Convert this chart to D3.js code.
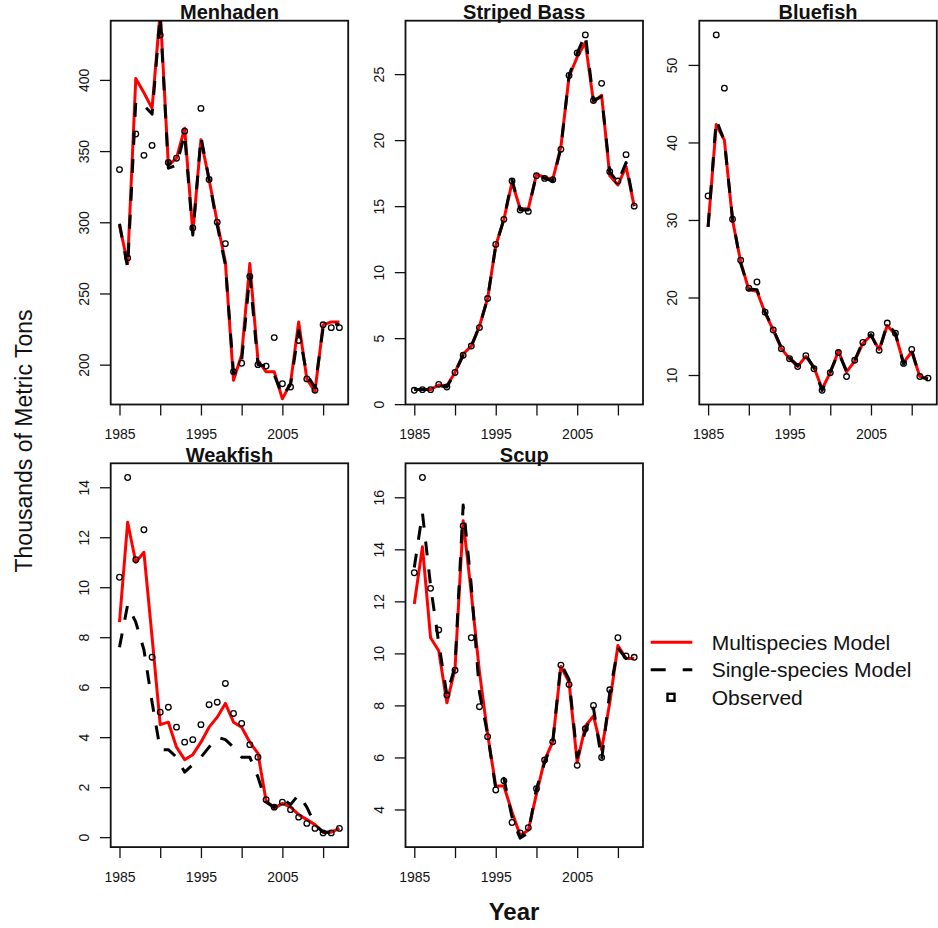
<!DOCTYPE html>
<html><head><meta charset="utf-8">
<script src="https://cdn.jsdelivr.net/npm/d3@7/dist/d3.min.js"></script>
<style>
html,body{margin:0;padding:0;background:#fff;}
svg text{font-family:"Liberation Sans",Arial,Helvetica,sans-serif;fill:#111;}
</style></head><body>
<svg id="chart" width="938" height="928"></svg>
<script>
// ---------------- data ----------------
const years = [1985,1986,1987,1988,1989,1990,1991,1992,1993,1994,1995,1996,1997,1998,1999,2000,2001,2002,2003,2004,2005,2006,2007,2008,2009,2010,2011,2012];
const xTicks = [1985,1990,1995,2000,2005,2010];
const xTickLabels = ["1985","","1995","","2005",""];

const menhadenMulti  = [298,271,401,391,380,448,340,345,366,293,358,330,300,272,189,207,271,203,195,195,176,187,230,190,181,228,230,230];
const menhadenSingle = [299,268,385,382,376,445,338,340,362,291,360,330,298,270,194,203,263,200,199,193,178,186,224,193,184,226,229,228];
const menhadenObs    = [337,275,362,347,354,431.6,342,345,364,296,380,330,300,285,195,201,262,200,199,219,186.6,184.3,217,190,182,228,226,226];
const menhadenTicks  = [200,250,300,350,400];

const bassMulti  = [1.1,1.1,1.1,1.45,1.4,2.4,3.8,4.4,5.9,8.0,12.0,14.0,16.8,14.8,14.8,17.4,17.2,17.0,19.5,24.8,26.3,27.4,22.9,23.4,17.3,16.6,18.0,15.0];
const bassSingle = [1.1,1.1,1.1,1.4,1.3,2.4,3.7,4.4,5.9,8.0,12.0,14.0,17.0,14.7,14.7,17.4,17.1,16.9,19.4,24.9,26.6,28.0,23.0,23.3,17.6,16.8,18.3,15.0];
const bassObs    = [1.05,1.1,1.1,1.5,1.3,2.4,3.7,4.4,5.8,8.0,12.1,14.0,16.9,14.7,14.6,17.3,17.1,17.0,19.3,24.9,26.6,27.97,23.0,24.3,17.6,16.9,18.9,15.0];
const bassTicks  = [0,5,10,15,20,25];

const blueMulti  = [29.1,42.3,40.3,30.0,24.6,21.0,20.8,18.0,15.8,13.4,12.1,11.1,12.4,11.0,8.2,10.3,13.1,10.4,11.8,14.1,15.1,13.3,16.4,15.2,11.6,13.0,9.8,9.6];
const blueSingle = [29.1,42.9,40.2,30.2,24.4,21.1,21.0,18.1,15.9,13.5,12.2,11.2,12.6,10.9,8.0,10.4,12.9,10.5,11.9,14.3,15.2,13.1,16.6,15.4,11.4,13.2,9.7,9.5];
const blueObs    = [33.1,53.87,47.0,30.1,24.8,21.2,22.0,18.1,15.8,13.4,12.1,11.1,12.5,10.8,8.03,10.3,12.9,9.8,11.9,14.2,15.2,13.2,16.7,15.4,11.5,13.3,9.8,9.6];
const blueTicks  = [10,20,30,40,50];

const weakMulti  = [8.6,12.6,11.0,11.4,8.0,4.5,4.6,3.6,3.1,3.3,3.8,4.4,4.8,5.35,4.6,4.4,3.8,3.35,1.45,1.15,1.35,1.2,0.9,0.7,0.5,0.2,0.2,0.35];
const weakSingle = [7.6,9.3,8.6,7.5,5.4,3.5,3.5,3.2,2.6,2.9,3.2,3.6,4.0,3.9,3.6,3.2,3.2,2.4,1.4,1.2,1.55,1.3,1.7,1.2,0.5,0.2,0.2,0.3];
const weakObs    = [10.4,14.39,11.1,12.3,7.2,5.0,5.2,4.4,3.8,3.9,4.5,5.3,5.4,6.15,4.95,4.55,3.7,3.2,1.5,1.2,1.4,1.1,0.8,0.55,0.35,0.17,0.17,0.35];
const weakTicks  = [0,2,4,6,8,10,12,14];

const scupMulti  = [11.9,14.1,10.6,10.1,8.1,9.4,15.1,12.3,9.3,6.9,4.9,4.9,3.9,3.0,3.2,4.6,5.9,6.6,9.5,8.9,5.8,7.2,7.6,6.3,8.1,10.3,9.8,9.8];
const scupSingle = [13.3,15.4,12.6,10.4,8.4,9.5,15.7,12.6,8.5,6.9,4.8,5.2,3.7,2.9,3.1,4.8,5.8,6.6,9.6,9.0,6.0,7.0,7.9,5.9,8.5,10.2,9.8,9.8];
const scupObs    = [13.1,16.76,12.5,10.9,8.4,9.35,14.9,10.6,7.95,6.8,4.75,5.1,3.5,3.1,3.3,4.8,5.9,6.6,9.55,8.8,5.7,7.1,8.0,6.0,8.6,10.6,9.9,9.85];
const scupTicks  = [4,6,8,10,12,14,16];

const legendLabels = ["Multispecies Model","Single-species Model","Observed"];

// ---------------- layout ----------------
const svg = d3.select("#chart");
const PW = 237.5, PH = 383.8;
const panels = [
  {title:"Menhaden",     multi:menhadenMulti, single:menhadenSingle, obs:menhadenObs, ticks:menhadenTicks, left:110.7, top:20.7},
  {title:"Striped Bass", multi:bassMulti,     single:bassSingle,     obs:bassObs,     ticks:bassTicks,     left:405.5, top:20.7},
  {title:"Bluefish",     multi:blueMulti,     single:blueSingle,     obs:blueObs,     ticks:blueTicks,     left:699.3, top:20.7},
  {title:"Weakfish",     multi:weakMulti,     single:weakSingle,     obs:weakObs,     ticks:weakTicks,     left:110.7, top:463.3},
  {title:"Scup",         multi:scupMulti,     single:scupSingle,     obs:scupObs,     ticks:scupTicks,     left:405.5, top:463.3}
];

function pad4(ext){ const r = ext[1]-ext[0]; return [ext[0]-0.04*r, ext[1]+0.04*r]; }

panels.forEach((p,i)=>{
  const g = svg.append("g").attr("transform",`translate(${p.left},${p.top})`);
  const x = d3.scaleLinear().domain(pad4(d3.extent(years))).range([0,PW]);
  const y = d3.scaleLinear().domain(pad4(d3.extent(p.obs))).range([PH,0]);

  const cid = "clip"+i;
  g.append("clipPath").attr("id",cid).append("rect").attr("width",PW).attr("height",PH);
  const plot = g.append("g").attr("clip-path",`url(#${cid})`);

  const line = d3.line().x((d,j)=>x(years[j])).y(d=>y(d));
  plot.append("path").datum(p.multi).attr("d",line)
    .attr("fill","none").attr("stroke","#ff0000").attr("stroke-width",3).attr("stroke-linejoin","round");
  plot.append("path").datum(p.single).attr("d",line)
    .attr("fill","none").attr("stroke","#000").attr("stroke-width",3).attr("stroke-dasharray","14,14").attr("stroke-linejoin","round");
  plot.selectAll("circle.obs").data(p.obs).enter().append("circle")
    .attr("cx",(d,j)=>x(years[j])).attr("cy",d=>y(d)).attr("r",2.8)
    .attr("fill","none").attr("stroke","#000").attr("stroke-width",1.3);

  // box
  g.append("rect").attr("width",PW).attr("height",PH).attr("fill","none").attr("stroke","#111").attr("stroke-width",1.8);

  // x axis
  const xa = g.append("g").attr("transform",`translate(0,${PH})`)
    .call(d3.axisBottom(x).tickValues(xTicks).tickSize(11).tickPadding(14).tickFormat((d,k)=>xTickLabels[k]));
  xa.select(".domain").remove();
  xa.selectAll("line").attr("stroke","#111").attr("stroke-width",1.3);
  xa.selectAll("text").attr("font-size",14).attr("fill","#111").attr("font-family",null);

  // y axis
  const ya = g.append("g")
    .call(d3.axisLeft(y).tickValues(p.ticks).tickSize(10.7).tickFormat(d3.format("d")));
  ya.select(".domain").remove();
  ya.selectAll("line").attr("stroke","#111").attr("stroke-width",1.3);
  ya.selectAll("text").attr("font-size",14).attr("fill","#111").attr("font-family",null)
    .attr("x",null).attr("dy",null)
    .attr("text-anchor","middle")
    .attr("transform","translate(-22,0) rotate(-90)");

  g.append("text").attr("x",PW/2).attr("y",-1.5).attr("text-anchor","middle")
    .attr("font-size",20).attr("font-weight","bold").text(p.title);
});

// axis titles
svg.append("text").attr("transform","translate(32,441) rotate(-90)").attr("text-anchor","middle")
  .attr("font-size",23).text("Thousands of Metric Tons");
svg.append("text").attr("x",514).attr("y",920).attr("text-anchor","middle")
  .attr("font-size",24).attr("font-weight","bold").text("Year");

// legend
const lg = svg.append("g").attr("transform","translate(650.7,642.3)");
const rowH = 27.5;
lg.append("line").attr("x1",0).attr("x2",41.6).attr("y1",0).attr("y2",0).attr("stroke","#ff0000").attr("stroke-width",3);
lg.append("line").attr("x1",0).attr("x2",41.6).attr("y1",rowH).attr("y2",rowH).attr("stroke","#000").attr("stroke-width",3).attr("stroke-dasharray","15,17");
lg.append("rect").attr("x",16.8).attr("y",2*rowH-3.5).attr("width",7).attr("height",7).attr("fill","none").attr("stroke","#000").attr("stroke-width",2.4);
legendLabels.forEach((t,k)=>{
  lg.append("text").attr("x",61).attr("y",k*rowH+7.5).attr("font-size",21).text(t);
});
</script>
</body></html>
